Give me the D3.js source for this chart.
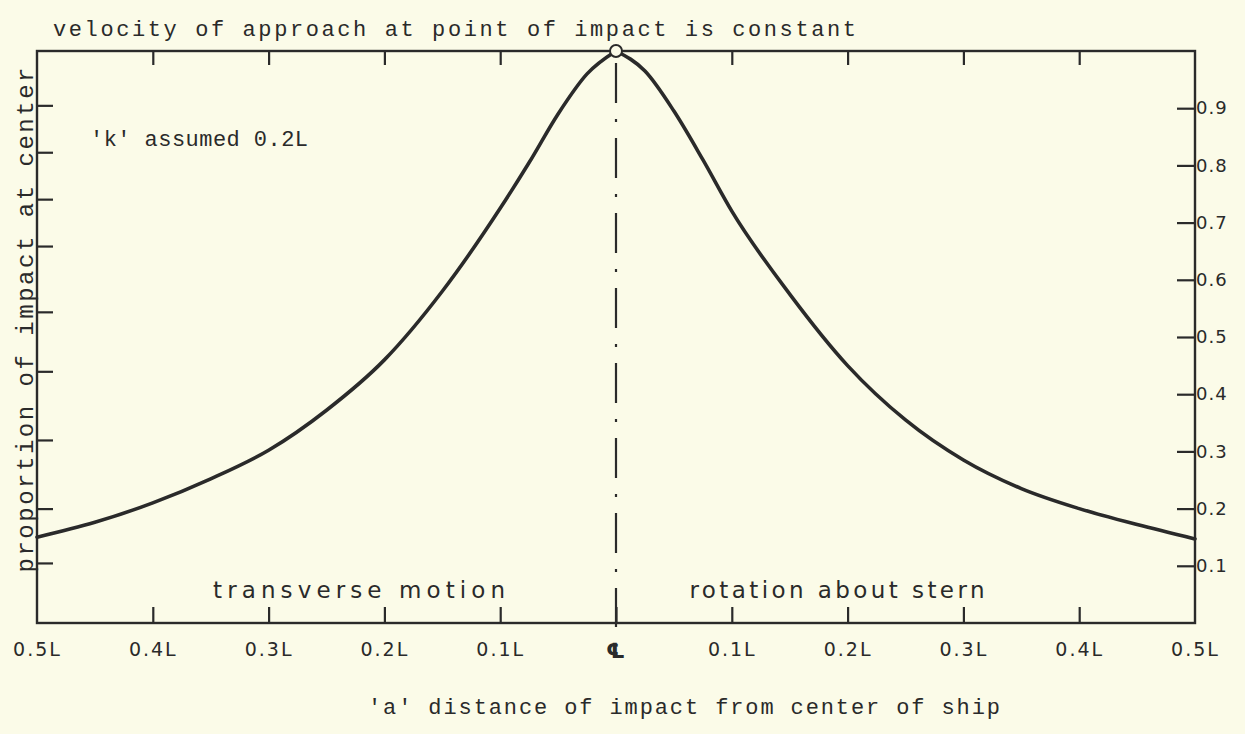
<!DOCTYPE html>
<html>
<head>
<meta charset="utf-8">
<script src="https://cdn.jsdelivr.net/npm/d3@7"></script>
<style>
  html, body { margin: 0; padding: 0; background: #fbfbe8; }
  svg { display: block; }
</style>
</head>
<body>
<svg id="chart" width="1245" height="734"></svg>
<script>
// ---- data ----
const distanceLeft = [-0.5, -0.45, -0.4, -0.35, -0.3, -0.25, -0.2, -0.15, -0.1, -0.075, -0.05, -0.025, 0];
const proportionLeft = [0.150, 0.176, 0.210, 0.252, 0.302, 0.372, 0.460, 0.580, 0.725, 0.805, 0.890, 0.960, 1.0];
const distanceRight = [0, 0.025, 0.05, 0.075, 0.1, 0.15, 0.2, 0.25, 0.3, 0.35, 0.4, 0.45, 0.5];
const proportionRight = [1.0, 0.965, 0.895, 0.810, 0.720, 0.575, 0.450, 0.355, 0.285, 0.235, 0.200, 0.172, 0.147];

const xTickValues = [-0.5, -0.4, -0.3, -0.2, -0.1, 0, 0.1, 0.2, 0.3, 0.4, 0.5];
const xTickLabels = ["0.5L", "0.4L", "0.3L", "0.2L", "0.1L", "℄", "0.1L", "0.2L", "0.3L", "0.4L", "0.5L"];
const rightTickValues = [0.1, 0.2, 0.3, 0.4, 0.5, 0.6, 0.7, 0.8, 0.9];
const rightTickLabels = ["0.1", "0.2", "0.3", "0.4", "0.5", "0.6", "0.7", "0.8", "0.9"];
const leftTickValues = [0.905, 0.823, 0.741, 0.659, 0.544, 0.44, 0.32, 0.2, 0.105];
const topTickValues = [-0.4, -0.3, -0.2, -0.1, 0.1, 0.2, 0.3, 0.4];

const titleText = "velocity of approach at point of impact is constant";
const xTitle = "'a' distance of impact from center of ship";
const yTitle = "proportion of impact at center";
const noteText = "'k' assumed 0.2L";
const leftRegion = "transverse motion";
const rightRegion = "rotation about stern";

// ---- layout ----
const ink = "#2a2a2a";
const bg = "#fbfbe8";
const L = 37, R = 1195, T = 51, B = 623;
const svg = d3.select("#chart");
const x = d3.scaleLinear().domain([-0.5, 0.5]).range([L, R]);
const y = d3.scaleLinear().domain([0, 1]).range([B, T]);

// frame
svg.append("rect").attr("x", L).attr("y", T).attr("width", R - L).attr("height", B - T)
  .attr("fill", "none").attr("stroke", ink).attr("stroke-width", 2.4);

// bottom axis (ticks pointing up, labels below)
const bottomAxis = d3.axisBottom(x).tickValues(xTickValues)
  .tickSize(-16).tickPadding(20).tickFormat((d, i) => xTickLabels[i]);
const gB = svg.append("g").attr("transform", `translate(0,${B})`).call(bottomAxis);
gB.select(".domain").remove();
gB.selectAll(".tick line").attr("stroke", ink).attr("stroke-width", 2.2)
  .filter(d => d === -0.5 || d === 0.5).remove();
gB.selectAll(".tick text").attr("fill", ink)
  .style("font-family", "'DejaVu Sans', sans-serif")
  .style("letter-spacing", "2px")
  .attr("font-weight", d => d === 0 ? "bold" : "normal")
  .style("font-size", d => d === 0 ? "21px" : "19px");

// top axis ticks (pointing down)
const topAxis = d3.axisTop(x).tickValues(topTickValues).tickSize(-14).tickFormat("");
const gT = svg.append("g").attr("transform", `translate(0,${T})`).call(topAxis);
gT.select(".domain").remove();
gT.selectAll(".tick line").attr("stroke", ink).attr("stroke-width", 2.2);

// right axis (ticks pointing inward, labels outside)
const rightAxis = d3.axisRight(y).tickValues(rightTickValues).tickSize(0).tickPadding(1)
  .tickFormat((d, i) => rightTickLabels[i]);
const gR = svg.append("g").attr("transform", `translate(${R},0)`).call(rightAxis);
gR.select(".domain").remove();
gR.selectAll(".tick").append("line").attr("x1", -18).attr("x2", 0)
  .attr("stroke", ink).attr("stroke-width", 2.2);
gR.selectAll(".tick text").attr("fill", ink)
  .style("font-family", "'DejaVu Sans', sans-serif").style("font-size", "18px")
  .style("letter-spacing", "1px");

// left axis ticks (pointing inward, no labels)
const leftAxis = d3.axisLeft(y).tickValues(leftTickValues).tickSize(-16).tickFormat("");
const gL = svg.append("g").attr("transform", `translate(${L},0)`).call(leftAxis);
gL.select(".domain").remove();
gL.selectAll(".tick line").attr("stroke", ink).attr("stroke-width", 2.2);

// centre line (dash-dot)
svg.append("line").attr("x1", x(0)).attr("x2", x(0)).attr("y1", y(1) + 12).attr("y2", B + 4)
  .attr("stroke", ink).attr("stroke-width", 2.2).attr("stroke-dasharray", "40,16,3,16");

// curve
const line = d3.line().x(d => x(d[0])).y(d => y(d[1])).curve(d3.curveMonotoneX);
const leftPts = distanceLeft.map((d, i) => [d, proportionLeft[i]]);
const rightPts = distanceRight.map((d, i) => [d, proportionRight[i]]);
[leftPts, rightPts].forEach(pts => {
  svg.append("path").datum(pts).attr("d", line).attr("fill", "none")
    .attr("stroke", ink).attr("stroke-width", 3.6).attr("stroke-linecap", "round");
});

// peak marker
svg.append("circle").attr("cx", x(0)).attr("cy", y(1)).attr("r", 6)
  .attr("fill", bg).attr("stroke", ink).attr("stroke-width", 2);

// texts
const mono = "'Liberation Mono', 'DejaVu Sans Mono', monospace";
const sans = "'DejaVu Sans', sans-serif";
function addText(str, xx, yy, font, size, len, anchor) {
  return svg.append("text").attr("x", xx).attr("y", yy).text(str)
    .attr("text-anchor", anchor || "start")
    .attr("textLength", len).attr("lengthAdjust", "spacing")
    .attr("fill", ink).style("font-family", font).style("font-size", size + "px");
}
addText(titleText, 53, 36, mono, 22, 803);
addText(noteText, 90, 146, mono, 22, 218);
addText(leftRegion, 359, 598, sans, 23, 292, "middle");
addText(rightRegion, 837, 598, sans, 23, 295, "middle");
addText(xTitle, 368, 714, mono, 22, 632);
svg.append("text").attr("transform", `translate(33,320) rotate(-90)`)
  .attr("text-anchor", "middle").text(yTitle)
  .attr("textLength", 505).attr("lengthAdjust", "spacing")
  .attr("fill", ink).style("font-family", mono).style("font-size", "24px");
</script>
</body>
</html>
